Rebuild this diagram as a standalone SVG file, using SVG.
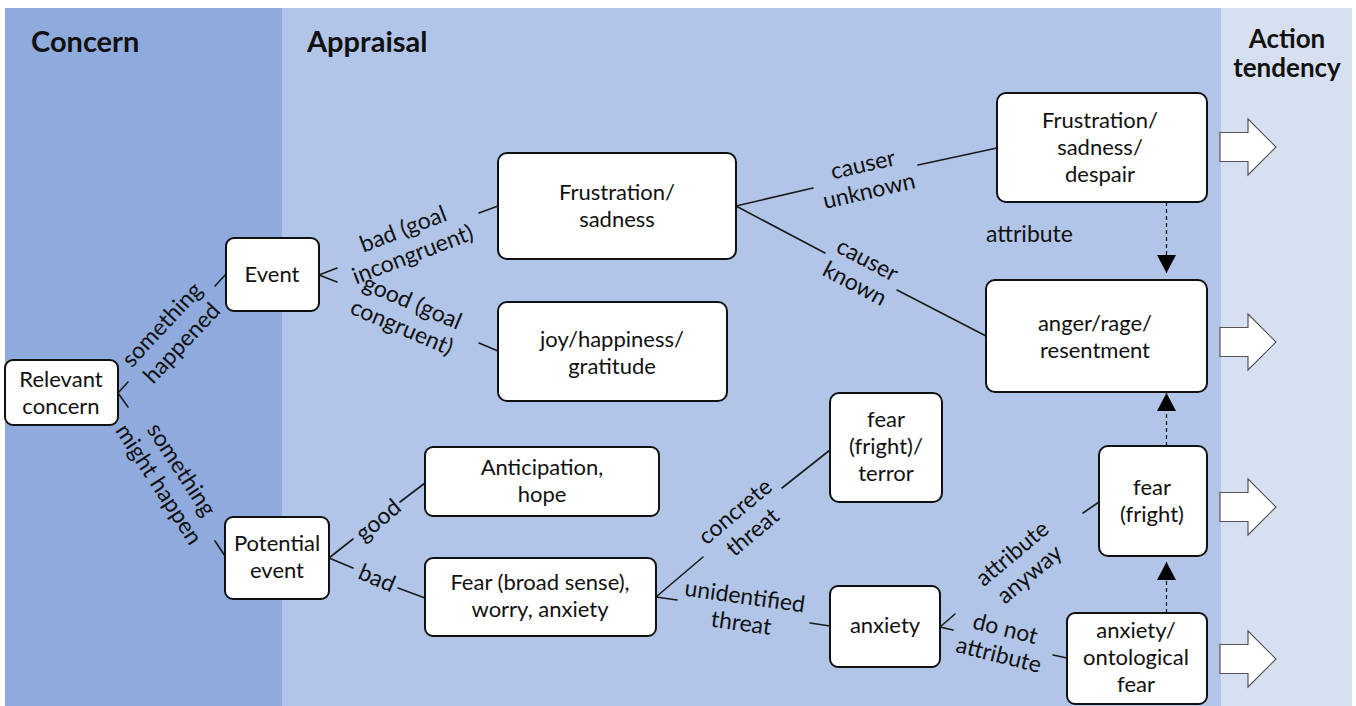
<svg xmlns="http://www.w3.org/2000/svg" width="1356" height="706" viewBox="0 0 1356 706">
<style>
text{font-family:Lato,"Open Sans","Liberation Sans",sans-serif;fill:#111}
.title{font-size:29px;font-weight:bold}
.title2{font-size:26px;font-weight:bold;text-anchor:middle}
.nt{font-size:22px;text-anchor:middle}
.lbl{font-size:23px;text-anchor:middle}
.plain{font-size:23px;text-anchor:start}
.box{fill:#fff;stroke:#111;stroke-width:2}
.con{stroke:#1a1a1a;stroke-width:1.6;fill:none;stroke-linecap:round}
.dash{stroke:#111;stroke-width:1.2;stroke-dasharray:4 3;fill:none}
.blk{fill:#fff;stroke:#555;stroke-width:1.2}
</style>
<defs>
<marker id="tri" markerWidth="20" markerHeight="20" refX="18" refY="9.5" orient="auto" markerUnits="userSpaceOnUse"><path d="M0,0 L18,9.5 L0,19 Z" fill="#000"/></marker>
</defs>
<rect width="1356" height="706" fill="#fff"/>
<g id="panels">
<rect x="5" y="8" width="277" height="698" fill="#8FAADC"/>
<rect x="282" y="8" width="939" height="698" fill="#B1C5E8"/>
<rect x="1221" y="8" width="131" height="698" fill="#D7E0F0"/>
<text class="title" x="31" y="52">Concern</text>
<text class="title" x="307" y="52">Appraisal</text>
<text class="title2" x="1287" y="48">Action</text>
<text class="title2" x="1287" y="77">tendency</text>
</g>
<g id="connectors">
<path class="con" d="M118,393 L128,382 M118,393 L128,407 M215,286 L226,274 M215,541 L225,556"/>
<path class="con" d="M319,275 L337,268 M319,275 L337,282 M479,213 L498,206 M479,343 L498,351"/>
<path class="con" d="M329,558 L353,539 M329,558 L353,568 M400,502 L425,483 M398,588 L425,598"/>
<path class="con" d="M736,206 L813,188 M736,206 L825,253 M918,165 L997,148 M897,290 L986,336"/>
<path class="con" d="M656,597 L703,557 M656,597 L677,600 M782,488 L830,450 M810,623 L830,626"/>
<path class="con" d="M940,627 L955,614 M940,627 L953,630 M1083,513 L1099,502 M1053,655 L1067,658"/>
<line class="dash" x1="1166.5" y1="202" x2="1166.5" y2="273" marker-end="url(#tri)"/>
<line class="dash" x1="1166.5" y1="446" x2="1166.5" y2="393" marker-end="url(#tri)"/>
<line class="dash" x1="1166.5" y1="613" x2="1166.5" y2="562" marker-end="url(#tri)"/>
<g id="labels">
<text class="lbl" transform="translate(172,334) rotate(-47)"><tspan x="0" y="-6">something</tspan><tspan x="0" y="21">happened</tspan></text>
<text class="lbl" transform="translate(170,477) rotate(57)"><tspan x="0" y="-6">something</tspan><tspan x="0" y="21">might happen</tspan></text>
<text class="lbl" transform="translate(408,242) rotate(-21)"><tspan x="0" y="-6">bad (goal</tspan><tspan x="0" y="21">incongruent)</tspan></text>
<text class="lbl" transform="translate(407,315) rotate(23)"><tspan x="0" y="-6">good (goal</tspan><tspan x="0" y="21">congruent)</tspan></text>
<text class="lbl" transform="translate(378,520) rotate(-40)" y="8">good</text>
<text class="lbl" transform="translate(377,578) rotate(23)" y="8">bad</text>
<text class="lbl" transform="translate(866,178) rotate(-13)"><tspan x="0" y="-6">causer</tspan><tspan x="0" y="21">unknown</tspan></text>
<text class="lbl" transform="translate(861,272) rotate(28)"><tspan x="0" y="-6">causer</tspan><tspan x="0" y="21">known</tspan></text>
<text class="lbl" transform="translate(744,522) rotate(-40)"><tspan x="0" y="-6">concrete</tspan><tspan x="0" y="21">threat</tspan></text>
<text class="lbl" transform="translate(743,610) rotate(8)"><tspan x="0" y="-6">unidentified</tspan><tspan x="0" y="21">threat</tspan></text>
<text class="lbl" transform="translate(1021,564) rotate(-40)"><tspan x="0" y="-6">attribute</tspan><tspan x="0" y="21">anyway</tspan></text>
<text class="lbl" transform="translate(1002,642) rotate(14)"><tspan x="0" y="-6">do not</tspan><tspan x="0" y="21">attribute</tspan></text>
<text class="plain" x="986" y="242">attribute</text>
</g>
</g>
<g id="n-relevant"><rect class="box" x="5" y="360" width="113" height="65" rx="8"/><text class="nt" x="61" y="387">Relevant</text><text class="nt" x="61" y="414">concern</text></g>
<g id="n-event"><rect class="box" x="226" y="238" width="93" height="73" rx="8"/><text class="nt" x="272" y="282">Event</text></g>
<g id="n-frustration"><rect class="box" x="498" y="153" width="238" height="106" rx="9"/><text class="nt" x="617" y="200">Frustration/</text><text class="nt" x="617" y="227">sadness</text></g>
<g id="n-joy"><rect class="box" x="498" y="302" width="229" height="99" rx="9"/><text class="nt" x="612" y="347">joy/happiness/</text><text class="nt" x="612" y="374">gratitude</text></g>
<g id="n-anticipation"><rect class="box" x="425" y="447" width="234" height="69" rx="8"/><text class="nt" x="542" y="475">Anticipation,</text><text class="nt" x="542" y="502">hope</text></g>
<g id="n-potential"><rect class="box" x="225" y="517" width="104" height="82" rx="8"/><text class="nt" x="277" y="551">Potential</text><text class="nt" x="277" y="578">event</text></g>
<g id="n-fearbroad"><rect class="box" x="425" y="558" width="231" height="78" rx="8"/><text class="nt" x="540" y="590">Fear (broad sense),</text><text class="nt" x="540" y="617">worry, anxiety</text></g>
<g id="n-terror"><rect class="box" x="830" y="393" width="112" height="109" rx="9"/><text class="nt" x="886" y="427">fear</text><text class="nt" x="886" y="454">(fright)/</text><text class="nt" x="886" y="481">terror</text></g>
<g id="n-anxiety"><rect class="box" x="830" y="586" width="110" height="81" rx="8"/><text class="nt" x="885" y="633">anxiety</text></g>
<g id="n-despair"><rect class="box" x="997" y="93" width="210" height="109" rx="9"/><text class="nt" x="1100" y="128">Frustration/</text><text class="nt" x="1100" y="155">sadness/</text><text class="nt" x="1100" y="182">despair</text></g>
<g id="n-anger"><rect class="box" x="986" y="280" width="221" height="112" rx="9"/><text class="nt" x="1095" y="331">anger/rage/</text><text class="nt" x="1095" y="358">resentment</text></g>
<g id="n-fright"><rect class="box" x="1099" y="446" width="108" height="110" rx="9"/><text class="nt" x="1152" y="495">fear</text><text class="nt" x="1152" y="522">(fright)</text></g>
<g id="n-ontological"><rect class="box" x="1067" y="613" width="140" height="91" rx="8"/><text class="nt" x="1136" y="638">anxiety/</text><text class="nt" x="1136" y="665">ontological</text><text class="nt" x="1136" y="692">fear</text></g>
<g id="action-arrows">
<path class="blk" d="M1220,132.5 H1248 V119 L1276,147 L1248,175 V161.5 H1220 Z"/>
<path class="blk" d="M1220,327.5 H1248 V314 L1276,342 L1248,370 V356.5 H1220 Z"/>
<path class="blk" d="M1220,492.5 H1248 V479 L1276,507 L1248,535 V521.5 H1220 Z"/>
<path class="blk" d="M1220,644.5 H1248 V631 L1276,659 L1248,687 V673.5 H1220 Z"/>
</g>
</svg>
